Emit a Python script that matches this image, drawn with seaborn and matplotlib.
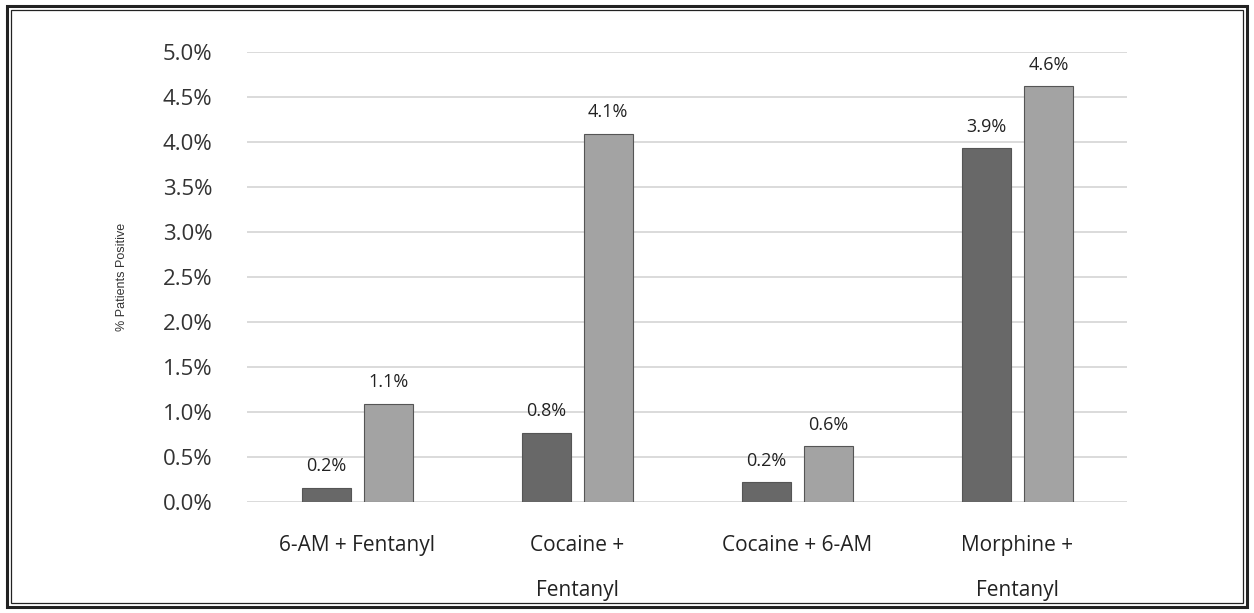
import pandas as pd
import seaborn as sns
import matplotlib.pyplot as plt
from matplotlib.patches import Rectangle
from matplotlib.ticker import FuncFormatter

categories = ['6-AM + Fentanyl', 'Cocaine +\nFentanyl', 'Cocaine + 6-AM', 'Morphine +\nFentanyl']
series_names = ['Series 1', 'Series 2']
series_1 = [0.16, 0.77, 0.22, 3.93]
series_2 = [1.09, 4.09, 0.62, 4.62]
yticks = [0.0, 0.5, 1.0, 1.5, 2.0, 2.5, 3.0, 3.5, 4.0, 4.5, 5.0]

df = pd.DataFrame({
    'combo': categories * 2,
    'series': [series_names[0]] * 4 + [series_names[1]] * 4,
    'pct': series_1 + series_2,
})

sns.set_style('white')
plt.rcParams['font.family'] = ['Open Sans', 'DejaVu Sans']

fig = plt.figure(figsize=(12.54, 6.13), dpi=100)
ax = fig.add_axes([0.197, 0.181, 0.702, 0.734])

sns.barplot(data=df, x='combo', y='pct', hue='series', order=categories,
            hue_order=series_names, palette=['#686868', '#a3a3a3'],
            width=0.564, gap=0.21, edgecolor='#555555', linewidth=0.8,
            saturation=1, ax=ax, legend=False)

for cont in ax.containers:
    ax.bar_label(cont, fmt='%.1f%%', padding=9, fontsize=13, color='#222222')

ax.set_ylim(0, 5.0)
ax.set_yticks(yticks)
ax.yaxis.set_major_formatter(FuncFormatter(lambda v, p: f'{v:.1f}%'))
ax.set_xlim(-0.5, 3.5)
ax.grid(axis='y', color='#d4d4d4', linewidth=1.2)
ax.set_axisbelow(True)
for s in ax.spines.values():
    s.set_visible(False)
ax.tick_params(axis='y', length=0, pad=25, labelsize=16, labelcolor='#333333')
ax.tick_params(axis='x', length=0, pad=24, labelsize=15, labelcolor='#222222')
for t in ax.get_xticklabels():
    t.set_linespacing(2.45)
    t.set_verticalalignment('top')
ax.set_xlabel('')
ax.set_ylabel('% Patients Positive', fontsize=9, color='#333333', family=['Liberation Sans', 'DejaVu Sans'])
ax.yaxis.set_label_coords(-0.135, 0.5)

# double frame around the whole picture
fig.patches.append(Rectangle((7 / 1254, 6 / 613), 1240 / 1254, 601 / 613,
                             transform=fig.transFigure, fill=False,
                             edgecolor='#222222', linewidth=2.2))
fig.patches.append(Rectangle((11 / 1254, 10 / 613), 1232 / 1254, 593 / 613,
                             transform=fig.transFigure, fill=False,
                             edgecolor='#222222', linewidth=0.9))

fig.savefig('out.png', dpi=100)
